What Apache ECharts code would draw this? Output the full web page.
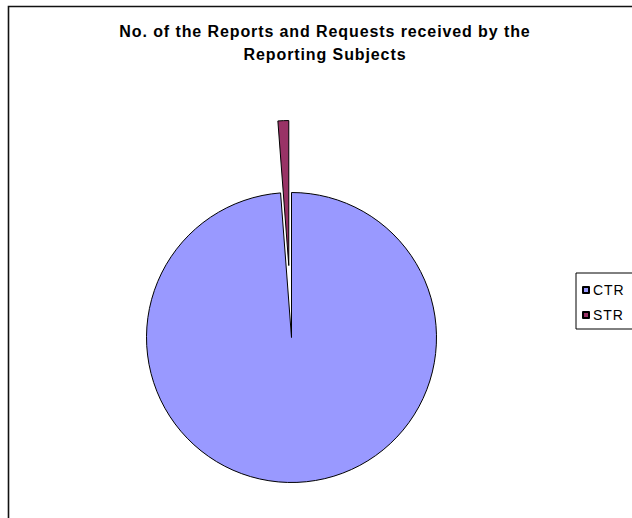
<!DOCTYPE html>
<html>
<head>
<meta charset="utf-8">
<script src="https://cdn.jsdelivr.net/npm/echarts@6/dist/echarts.min.js"></script>
<style>
  html, body { margin: 0; padding: 0; background: #fff; }
  #chart { width: 632px; height: 518px; }
  /* spaced-out lettering for the title and legend */
  #chart text { letter-spacing: 0.9px; }
</style>
</head>
<body>
<div id="chart"></div>
<script>
// Reports and requests by type
const categories = ['CTR', 'STR'];
const values = [98.8, 1.2];
const sliceColors = ['#9999FF', '#993366'];
const titleLines = ['No. of the Reports and Requests received by the', 'Reporting Subjects'];

const chart = echarts.init(document.getElementById('chart'), null, { renderer: 'svg' });

chart.setOption({
  animation: false,
  backgroundColor: '#ffffff',
  title: {
    text: titleLines.join('\n'),
    left: 320,
    textAlign: 'center',
    top: 14.5,
    textStyle: {
      fontFamily: 'Liberation Sans, Arial, sans-serif',
      fontSize: 16,
      fontWeight: 'bold',
      color: '#000',
      lineHeight: 23
    }
  },
  graphic: [{
    type: 'rect',
    shape: { x: 8.5, y: 6.5, width: 700, height: 600 },
    style: { fill: null, stroke: '#111', lineWidth: 1.6 },
    silent: true,
    z: -1
  }],
  legend: {
    orient: 'vertical',
    left: 576,
    top: 273,
    data: categories,
    icon: 'rect',
    itemWidth: 6,
    itemHeight: 6,
    itemGap: 9,
    padding: [9, 30, 6, 6],
    borderColor: '#000',
    borderWidth: 1,
    textStyle: {
      fontFamily: 'Liberation Sans, Arial, sans-serif',
      fontSize: 14,
      lineHeight: 16,
      color: '#000',
      padding: [0, 0, 0, -1]
    }
  },
  series: [{
    type: 'pie',
    center: [291.5, 337.5],
    radius: [0, 145],
    startAngle: 90,
    clockwise: true,
    selectedMode: 'multiple',
    selectedOffset: 72,
    label: { show: false },
    labelLine: { show: false },
    emphasis: { disabled: true },
    itemStyle: { borderColor: '#000', borderWidth: 1 },
    data: categories.map((name, i) => ({
      name,
      value: values[i],
      selected: name === 'STR',
      itemStyle: { color: sliceColors[i] }
    }))
  }]
});
</script>
</body>
</html>
